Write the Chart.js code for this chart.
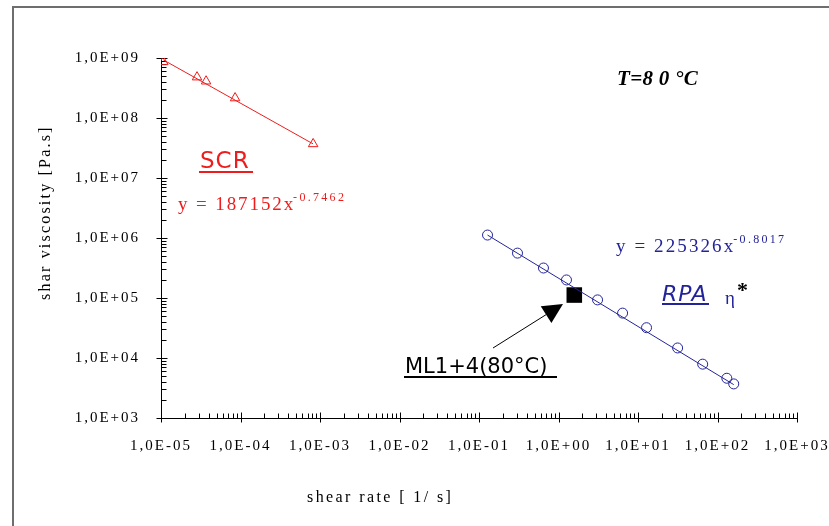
<!DOCTYPE html>
<html>
<head>
<meta charset="utf-8">
<script src="https://cdn.jsdelivr.net/npm/chart.js@4.4.1/dist/chart.umd.min.js"></script>
<style>
  html, body { margin: 0; padding: 0; background: #fff; }
  #wrap { width: 829px; height: 526px; }
</style>
</head>
<body>
<div id="wrap"><canvas id="grafico" width="829" height="526"></canvas></div>
<script>
// ============================================================
//  Viscosidad vs velocidad de corte (SCR / RPA), T = 80 °C
// ============================================================

// ---- datos ----
const decadasX = [1e-5, 1e-4, 1e-3, 1e-2, 1e-1, 1e0, 1e1, 1e2, 1e3];
const decadasY = [1e3, 1e4, 1e5, 1e6, 1e7, 1e8, 1e9];

const scrRate = [1.07e-5, 2.84e-5, 3.69e-5, 8.55e-5, 8.2e-4];
const scrVisc = [8.6e8, 4.8e8, 4.1e8, 2.15e8, 3.7e7];
const scrTrendRate = [1.07e-5, 8.2e-4];
const scrTrendVisc = [9.3e8, 3.7e7];

const rpaRate = [0.128, 0.305, 0.647, 1.26, 3.10, 6.40, 12.8, 31.5, 65.1, 131, 160];
const rpaVisc = [1.12e6, 5.6e5, 3.16e5, 2.0e5, 9.3e4, 5.6e4, 3.2e4, 1.47e4, 7.9e3, 4.6e3, 3.7e3];
const rpaTrendRate = [0.128, 160];
const rpaTrendVisc = [1.12e6, 3.6e3];

const mlRate = [1.58];
const mlVisc = [1.12e5];

const ROJO = '#ee1c1c';
const AZUL = '#24249a';

const pares = (xs, ys) => xs.map((v, i) => ({ x: v, y: ys[i] }));

function formatoCientifico(v) {
  const e = Math.round(Math.log10(v));
  return '1,0E' + (e < 0 ? '-' : '+') + String(Math.abs(e)).padStart(2, '0');
}

// ---- marco, marcas de ejes y anotaciones ----
const marco = {
  id: 'marco',
  beforeDraw(chart) {
    const ctx = chart.ctx;
    ctx.save();
    ctx.strokeStyle = '#6e6e6e';
    ctx.lineWidth = 2;
    ctx.beginPath();
    ctx.moveTo(13, 530);
    ctx.lineTo(13, 7);
    ctx.lineTo(835, 7);
    ctx.stroke();
    ctx.restore();
    ctx.letterSpacing = '2px';
  }
};

const marcasEjes = {
  id: 'marcasEjes',
  beforeDatasetsDraw(chart) {
    const { ctx, scales: { x, y } } = chart;
    const ejeY = Math.round(y.getPixelForValue(1e3)) + 0.5;
    const ejeX = Math.round(x.getPixelForValue(1e-5)) + 0.5;
    ctx.save();
    ctx.strokeStyle = '#000';
    ctx.lineWidth = 1;
    ctx.beginPath();
    decadasX.forEach((d, i) => {
      const px = Math.round(x.getPixelForValue(d)) + 0.5;
      ctx.moveTo(px, ejeY - 6); ctx.lineTo(px, ejeY + 4);
      if (i < decadasX.length - 1) {
        for (let k = 2; k < 10; k++) {
          const pm = Math.round(x.getPixelForValue(d * k)) + 0.5;
          ctx.moveTo(pm, ejeY); ctx.lineTo(pm, ejeY - 5);
        }
      }
    });
    decadasY.forEach((d, i) => {
      const py = Math.round(y.getPixelForValue(d)) + 0.5;
      ctx.moveTo(ejeX - 5, py); ctx.lineTo(ejeX + 6, py);
      if (i < decadasY.length - 1) {
        for (let k = 2; k < 10; k++) {
          const pm = Math.round(y.getPixelForValue(d * k)) + 0.5;
          ctx.moveTo(ejeX, pm); ctx.lineTo(ejeX + 5, pm);
        }
      }
    });
    ctx.stroke();
    ctx.restore();
  }
};

function texto(ctx, str, x, y, font, color, espacio) {
  ctx.font = font;
  ctx.fillStyle = color;
  ctx.letterSpacing = (espacio || 0) + 'px';
  ctx.textAlign = 'left';
  ctx.textBaseline = 'alphabetic';
  ctx.fillText(str, x, y);
  return ctx.measureText(str).width;
}

function subrayar(ctx, x1, x2, y, color) {
  ctx.fillStyle = color;
  ctx.fillRect(x1, y, x2 - x1, 2);
}

const anotaciones = {
  id: 'anotaciones',
  afterDraw(chart) {
    const ctx = chart.ctx;
    ctx.save();

    // títulos de ejes
    texto(ctx, 'shear rate [ 1/ s]', 307, 502, '16px "Liberation Serif"', '#000', 2.4);
    ctx.save();
    ctx.translate(50, 300);
    ctx.rotate(-Math.PI / 2);
    texto(ctx, 'shar viscosity [Pa.s]', 0, 0, '16px "Liberation Serif"', '#000', 2.2);
    ctx.restore();

    // temperatura
    texto(ctx, 'T=8 0 °C', 617, 85, 'italic bold 21px "Liberation Serif"', '#000', 0.3);

    // SCR
    let w = texto(ctx, 'SCR', 200, 168, '23px "DejaVu Sans"', ROJO, 1);
    subrayar(ctx, 199, 253, 171, ROJO);
    w = texto(ctx, 'y = 187152x', 178, 210, '19px "Liberation Serif"', ROJO, 1.9);
    texto(ctx, '-0.7462', 176 + w, 201, '12px "Liberation Serif"', ROJO, 2.3);

    // RPA
    w = texto(ctx, 'y = 225326x', 616, 252, '19px "Liberation Serif"', AZUL, 2.1);
    texto(ctx, '-0.8017', 614 + w, 243, '12px "Liberation Serif"', AZUL, 2.3);
    texto(ctx, 'RPA', 662, 301, 'italic 22px "DejaVu Sans"', AZUL, 1);
    subrayar(ctx, 662, 709, 303, AZUL);
    texto(ctx, 'η', 725, 304, '19px "Liberation Serif"', AZUL, 0);
    texto(ctx, '*', 737, 297, 'bold 22px "Liberation Serif"', '#000', 0);

    // ML1+4
    texto(ctx, 'ML1+4(80°C)', 405, 373, '21px "DejaVu Sans"', '#000', 0);
    subrayar(ctx, 404, 557, 376, '#000');

    // flecha
    const x0 = 493, y0 = 348, x1 = 563, y1 = 304;
    const ang = Math.atan2(y1 - y0, x1 - x0);
    const largo = 20, ancho = 10;
    const bx = x1 - largo * Math.cos(ang), by = y1 - largo * Math.sin(ang);
    ctx.strokeStyle = '#000';
    ctx.lineWidth = 1;
    ctx.beginPath();
    ctx.moveTo(x0, y0); ctx.lineTo(bx, by);
    ctx.stroke();
    ctx.fillStyle = '#000';
    ctx.beginPath();
    ctx.moveTo(x1, y1);
    ctx.lineTo(bx + ancho * Math.sin(ang), by - ancho * Math.cos(ang));
    ctx.lineTo(bx - ancho * Math.sin(ang), by + ancho * Math.cos(ang));
    ctx.closePath();
    ctx.fill();

    ctx.restore();
  }
};

// ---- gráfico ----
const canvas = document.getElementById('grafico');
new Chart(canvas, {
  type: 'scatter',
  data: {
    datasets: [
      {
        data: pares(scrTrendRate, scrTrendVisc),
        showLine: true, borderColor: ROJO, borderWidth: 1, pointRadius: 0
      },
      {
        data: pares(rpaTrendRate, rpaTrendVisc),
        showLine: true, borderColor: AZUL, borderWidth: 1, pointRadius: 0
      },
      {
        data: pares(scrRate, scrVisc),
        pointStyle: 'triangle', pointRadius: 5.5, borderWidth: 1,
        borderColor: ROJO, backgroundColor: 'rgba(0,0,0,0)'
      },
      {
        data: pares(rpaRate, rpaVisc),
        pointStyle: 'circle', pointRadius: 5, borderWidth: 1,
        borderColor: AZUL, backgroundColor: 'rgba(0,0,0,0)'
      },
      {
        data: pares(mlRate, mlVisc),
        pointStyle: 'rect', pointRadius: 11, borderWidth: 0,
        borderColor: '#000', backgroundColor: '#000'
      }
    ]
  },
  options: {
    responsive: false,
    animation: false,
    devicePixelRatio: 1,
    layout: { padding: { left: 0, top: 58, right: 32, bottom: 0 } },
    plugins: { legend: { display: false }, tooltip: { enabled: false } },
    scales: {
      x: {
        type: 'logarithmic',
        min: 1e-5, max: 1e3,
        afterBuildTicks: s => { s.ticks = decadasX.map(v => ({ value: v })); },
        afterFit: s => { s.height = 108; s.paddingLeft = 0; s.paddingRight = 0; },
        grid: { display: false, drawTicks: false },
        border: { display: true, color: '#000', width: 1 },
        ticks: {
          callback: v => formatoCientifico(v),
          font: { family: 'Liberation Serif', size: 15 },
          color: '#000', padding: 19, maxRotation: 0, autoSkip: false
        }
      },
      y: {
        type: 'logarithmic',
        min: 1e3, max: 1e9,
        afterBuildTicks: s => { s.ticks = decadasY.map(v => ({ value: v })); },
        afterFit: s => { s.width = 161; s.paddingTop = 0; s.paddingBottom = 0; },
        grid: { display: false, drawTicks: false },
        border: { display: true, color: '#000', width: 1 },
        ticks: {
          callback: v => formatoCientifico(v),
          font: { family: 'Liberation Serif', size: 15 },
          color: '#000', padding: 21, autoSkip: false
        }
      }
    }
  },
  plugins: [marco, marcasEjes, anotaciones]
});
</script>
</body>
</html>
